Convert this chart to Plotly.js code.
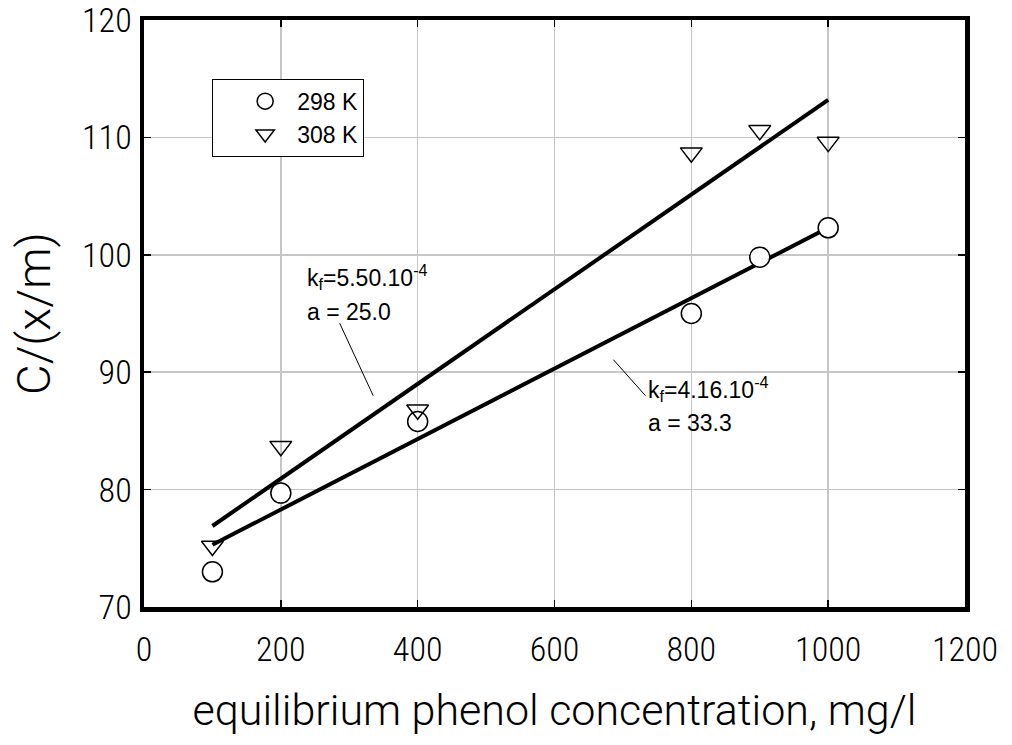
<!DOCTYPE html>
<html>
<head>
<meta charset="utf-8">
<script src="https://cdn.plot.ly/plotly-3.0.1.min.js"></script>
<style>
html,body{margin:0;padding:0;background:#fff;}
#chart{width:1012px;height:745px;}
</style>
</head>
<body>
<div id="chart"></div>
<script>
// Data
var concentration = [100, 200, 400, 800, 900, 1000];
var ratio298 = [73.0, 79.7, 85.8, 95.0, 99.8, 102.3];
var ratio308 = [75.2, 83.7, 86.8, 108.7, 110.6, 109.6];
var fitX = [100, 1000];
var fit298 = [75.3, 102.3];
var fit308 = [76.9, 113.2];
var seriesNames = ['298 K', '308 K'];
var xTicks = [0, 200, 400, 600, 800, 1000, 1200];
var yTicks = [70, 80, 90, 100, 110, 120];

var labelFont = 'Liberation Sans, Arial, sans-serif';
var tickFont = 'Roboto Condensed, Roboto, sans-serif';
var titleFont = 'Roboto, sans-serif';
var traces = [
  {x: fitX, y: fit298, mode: 'lines', line: {color: '#000', width: 4}, showlegend: false, hoverinfo: 'skip'},
  {x: fitX, y: fit308, mode: 'lines', line: {color: '#000', width: 4}, showlegend: false, hoverinfo: 'skip'},
  {x: concentration, y: ratio298, mode: 'markers', name: seriesNames[0],
   marker: {symbol: 'circle', size: 20, color: '#fff', line: {color: '#000', width: 1.5}}},
  {x: concentration, y: ratio308, mode: 'markers', name: seriesNames[1],
   marker: {symbol: 'triangle-down', size: 19, color: 'rgba(255,255,255,0)', line: {color: '#000', width: 1.5}}}
];

var axisCommon = {
  showline: true, linecolor: '#000', linewidth: 4.5, mirror: 'allticks',
  ticks: 'inside', ticklen: 7, tickwidth: 1.5, tickcolor: '#000',
  showgrid: true, gridcolor: '#c6c6c6', gridwidth: 1.5, zeroline: false,
  ticklabeloverflow: 'allow',
  tickfont: {family: tickFont, size: 34, weight: 300, color: '#000'}
};

var layout = {
  width: 1012, height: 745,
  margin: {l: 144, r: 47, t: 20, b: 138},
  paper_bgcolor: '#fff', plot_bgcolor: '#fff',
  font: {family: labelFont, color: '#000'},
  xaxis: Object.assign({}, axisCommon, {
    range: [0, 1200], tickvals: xTicks, ticktext: xTicks.map(String),
    ticklabelstandoff: 9,
    title: {text: 'equilibrium phenol concentration, mg/l', font: {family: titleFont, size: 43, weight: 300, color: '#000'}, standoff: 28}
  }),
  yaxis: Object.assign({}, axisCommon, {
    range: [70, 120], tickvals: yTicks, ticktext: yTicks.map(String),
    ticklabelstandoff: 1,
    title: {text: 'C/(x/m)', font: {family: titleFont, size: 47, weight: 300, color: '#000'}, standoff: 18}
  }),
  legend: {
    x: 0.083, y: 0.9, xanchor: 'left', yanchor: 'top',
    bgcolor: '#fff', bordercolor: '#000', borderwidth: 1,
    font: {family: labelFont, size: 23, color: '#000'},
    indentation: 20, itemwidth: 54, tracegroupgap: 0,
    entrywidth: 150, entrywidthmode: 'pixels'
  },
  showlegend: true,
  annotations: [
    {x: 235, y: 98.1, xref: 'x', yref: 'y', xanchor: 'left', yanchor: 'middle', showarrow: false,
     text: 'k<sub>f</sub>=5.50.10<sup>-4</sup>', font: {family: labelFont, size: 23, color: '#000'}},
    {x: 235, y: 95.1, xref: 'x', yref: 'y', xanchor: 'left', yanchor: 'middle', showarrow: false,
     text: 'a = 25.0', font: {family: labelFont, size: 23, color: '#000'}},
    {x: 734, y: 88.6, xref: 'x', yref: 'y', xanchor: 'left', yanchor: 'middle', showarrow: false,
     text: 'k<sub>f</sub>=4.16.10<sup>-4</sup>', font: {family: labelFont, size: 23, color: '#000'}},
    {x: 734, y: 85.7, xref: 'x', yref: 'y', xanchor: 'left', yanchor: 'middle', showarrow: false,
     text: 'a = 33.3', font: {family: labelFont, size: 23, color: '#000'}},
    {x: 335, y: 88.0, xref: 'x', yref: 'y', ax: 285, ay: 94.3, axref: 'x', ayref: 'y',
     text: '', showarrow: true, arrowhead: 0, arrowwidth: 1, arrowcolor: '#000', standoff: 0, startstandoff: 0},
    {x: 733, y: 88.0, xref: 'x', yref: 'y', ax: 684, ay: 91.2, axref: 'x', ayref: 'y',
     text: '', showarrow: true, arrowhead: 0, arrowwidth: 1, arrowcolor: '#000', standoff: 0, startstandoff: 0}
  ]
};

Plotly.newPlot('chart', traces, layout, {displayModeBar: false, staticPlot: true});
</script>
</body>
</html>
